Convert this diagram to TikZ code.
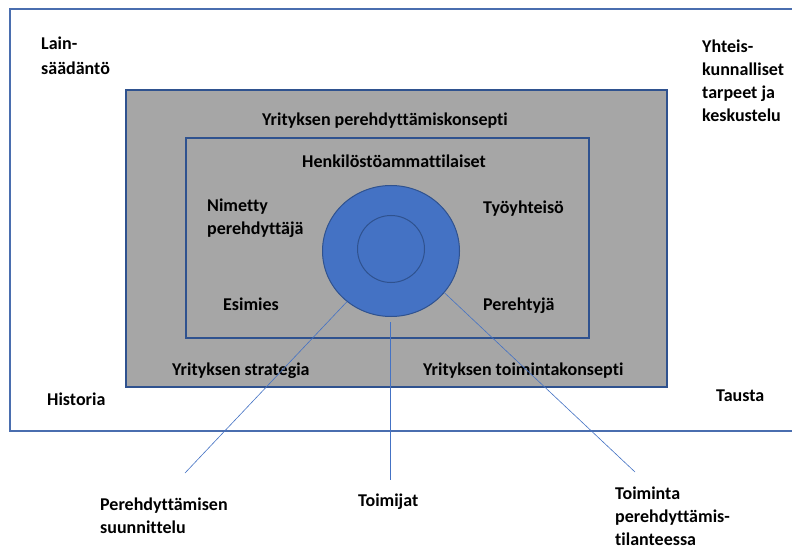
\documentclass[tikz,border=0pt]{standalone}
\usepackage{fontspec}
\setmainfont{Carlito}[Ligatures=NoCommon]
\usetikzlibrary{shapes.geometric}
\definecolor{frameblue}{HTML}{4A6EAF}
\definecolor{ringblue}{HTML}{4472C4}
\definecolor{ringedge}{HTML}{2F528F}
\definecolor{boxgray}{HTML}{A6A6A6}
\tikzset{lbl/.style={font=\fontsize{18}{23}\selectfont\bfseries, align=left, anchor=base west, inner sep=0pt}}
\tikzset{box/.style={draw=ringedge, fill=boxgray, line width=1.5pt}}
\tikzset{link/.style={draw=ringblue, line width=0.6pt}}

\begin{document}
\begin{tikzpicture}[x=1pt, y=-1pt]
    \useasboundingbox (0,0) rectangle (792,548);
    \fill[white] (0,0) rectangle (792,548);
    % frames
    \draw[frameblue, line width=1.6pt] (10,9) rectangle (820,431);
    \draw[box] (126,90) rectangle (667,387);
    \draw[box] (186,138) rectangle (589,338);
    % circles
    \node[ellipse, draw=ringedge, fill=ringblue, line width=1pt, minimum width=137pt, minimum height=131pt, inner sep=0pt] (ring) at (391,251) {};
    \node[circle, draw=ringedge, line width=1pt, minimum size=67pt, inner sep=0pt] (core) at (391,249) {};
    % labels (base = last line)
    \node[lbl] (laki) at (41,75) {Lain-\\[2.5pt]säädäntö};
    \node[lbl] (yhteis) at (702,122) {Yhteis-\\kunnalliset\\tarpeet ja\\keskustelu};
    \node[lbl] (konsepti) at (262,126) {Yrityksen perehdyttämiskonsepti};
    \node[lbl] (henk) at (302,168) {Henkilöstöammattilaiset};
    \node[lbl] (nimetty) at (207,234) {Nimetty\\perehdyttäjä};
    \node[lbl] (tyo) at (483,214) {Työyhteisö};
    \node[lbl] (esim) at (223,310) {Esimies};
    \node[lbl] (pereh) at (483,310) {Perehtyjä};
    \node[lbl] (strat) at (172,375) {Yrityksen strategia};
    \node[lbl] (toim) at (423,375) {Yrityksen toimintakonsepti};
    \node[lbl] (hist) at (47,405) {Historia};
    \node[lbl] (taus) at (716,401) {Tausta};
    \node[lbl] (suun) at (100,533) {Perehdyttämisen\\suunnittelu};
    \node[lbl] (toimijat) at (358,506) {Toimijat};
    \node[lbl] (tilanne) at (615,545) {Toiminta\\perehdyttämis-\\tilanteessa};
    % connectors
    \coordinate (c1) at (185,473);
    \coordinate (c2top) at (390,322);
    \coordinate (c2) at (390,480);
    \coordinate (c3) at (635,472);
    \draw[link] (ring.229) -- (c1);
    \draw[link] (c2top) -- (c2);
    \draw[link] (ring.322) -- (c3);
\end{tikzpicture}
\end{document}
